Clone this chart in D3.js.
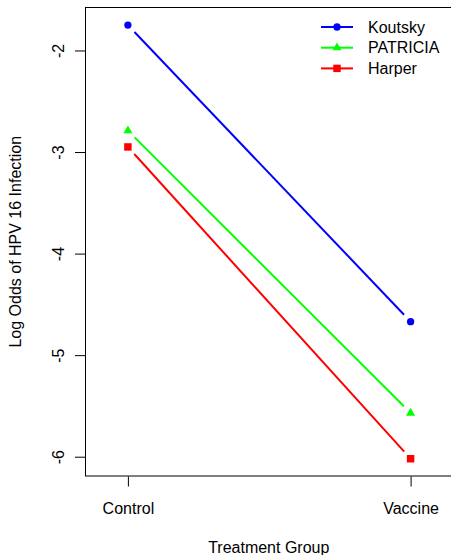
<!DOCTYPE html>
<html>
<head>
<meta charset="utf-8">
<script src="https://cdn.jsdelivr.net/npm/d3@7"></script>
<style>
  body { margin: 0; background: #fff; }
  svg { display: block; font-family: "Liberation Sans", Arial, sans-serif; }
</style>
</head>
<body>
<div id="chart"></div>
<script>
// values
const groups = ["Control", "Vaccine"];
const studies = ["Koutsky", "PATRICIA", "Harper"];
const koutsky = [-1.75, -4.67];
const patricia = [-2.79, -5.57];
const harper = [-2.95, -6.02];
const yTicks = [-2, -3, -4, -5, -6];
const colors = ["#0000ff", "#00ff00", "#ff0000"];
const shapes = [d3.symbolCircle, d3.symbolTriangle, d3.symbolSquare];
const sizes = [42, 36, 56];

const series = [koutsky, patricia, harper];

const W = 451, H = 555;
const box = {left: 85.5, top: 7.5, right: 453, bottom: 476};

let svg = d3.select("#chart")
    .append("svg")
    .attr("width", W)
    .attr("height", H)

let x = d3.scaleLinear().domain([0.85, 2.15]).range([box.left, box.right]);
let y = d3.scaleLinear().domain([-6.19, -1.577]).range([box.bottom, box.top]);

// plot frame
svg.append("rect")
    .attr("x", box.left)
    .attr("y", box.top)
    .attr("width", box.right - box.left)
    .attr("height", box.bottom - box.top)
    .attr("fill", "none")
    .attr("stroke", "#000")
    .attr("stroke-width", 1)

// y axis
let yAxis = svg.append("g")
    .attr("transform", "translate(" + (box.left - 0.5) + ",0)")
    .call(d3.axisLeft(y).tickValues(yTicks).tickSize(10).tickFormat(d3.format("d")))
yAxis.select(".domain").remove()
yAxis.selectAll("line").attr("stroke", "#000")
yAxis.selectAll("text")
    .attr("x", null).attr("dy", null)
    .attr("transform", "translate(-21.5,0) rotate(-90)")
    .attr("text-anchor", "middle")
    .attr("fill", "#000")
    .style("font-size", "16px")
    .text(d => d < 0 ? "-" + Math.abs(d) : d)

// x axis
let xAxis = svg.append("g")
    .attr("transform", "translate(0," + (box.bottom + 0.5) + ")")
    .call(d3.axisBottom(x).tickValues([1, 2]).tickSize(10).tickFormat((d, i) => groups[i]))
xAxis.select(".domain").remove()
xAxis.selectAll("line").attr("stroke", "#000")
xAxis.selectAll("text")
    .attr("y", 37).attr("dy", null)
    .attr("fill", "#000")
    .style("font-size", "16px")

// axis titles
svg.append("text")
    .attr("x", (box.left + box.right) / 2 - 0.5)
    .attr("y", 553)
    .attr("text-anchor", "middle")
    .style("font-size", "16px")
    .text("Treatment Group")

svg.append("text")
    .attr("transform", "translate(20.5," + ((box.top + box.bottom) / 2) + ") rotate(-90)")
    .attr("text-anchor", "middle")
    .style("font-size", "16px")
    .text("Log Odds of HPV 16 Infection")

// lines with a gap round each point (like type="b")
const gap = 9.5;
series.forEach((vals, s) => {
    let p0 = [x(1), y(vals[0])], p1 = [x(2), y(vals[1])];
    let dx = p1[0] - p0[0], dy = p1[1] - p0[1];
    let len = Math.sqrt(dx * dx + dy * dy);
    let ux = dx / len, uy = dy / len;
    svg.append("line")
        .attr("x1", p0[0] + ux * gap).attr("y1", p0[1] + uy * gap)
        .attr("x2", p1[0] - ux * gap).attr("y2", p1[1] - uy * gap)
        .attr("stroke", colors[s])
        .attr("stroke-width", 2)

    svg.selectAll(".pt" + s)
        .data(vals)
        .enter().append("path")
        .attr("class", "pt" + s)
        .attr("transform", (d, i) => "translate(" + x(i + 1) + "," + y(d) + ")")
        .attr("d", d3.symbol().type(shapes[s]).size(sizes[s]))
        .attr("fill", colors[s])
})

// legend
let legend = svg.append("g")
legend.selectAll("g")
    .data(studies)
    .enter().append("g")
    .attr("transform", (d, i) => "translate(0," + (27 + i * 20.7) + ")")
    .each(function (d, i) {
        let g = d3.select(this);
        g.append("line")
            .attr("x1", 321).attr("x2", 353)
            .attr("stroke", colors[i])
            .attr("stroke-width", 2)
        g.append("path")
            .attr("transform", "translate(337,0)")
            .attr("d", d3.symbol().type(shapes[i]).size(sizes[i]))
            .attr("fill", colors[i])
        g.append("text")
            .attr("x", 368)
            .attr("dy", "0.35em")
            .style("font-size", "16px")
            .text(d)
    })
</script>
</body>
</html>
